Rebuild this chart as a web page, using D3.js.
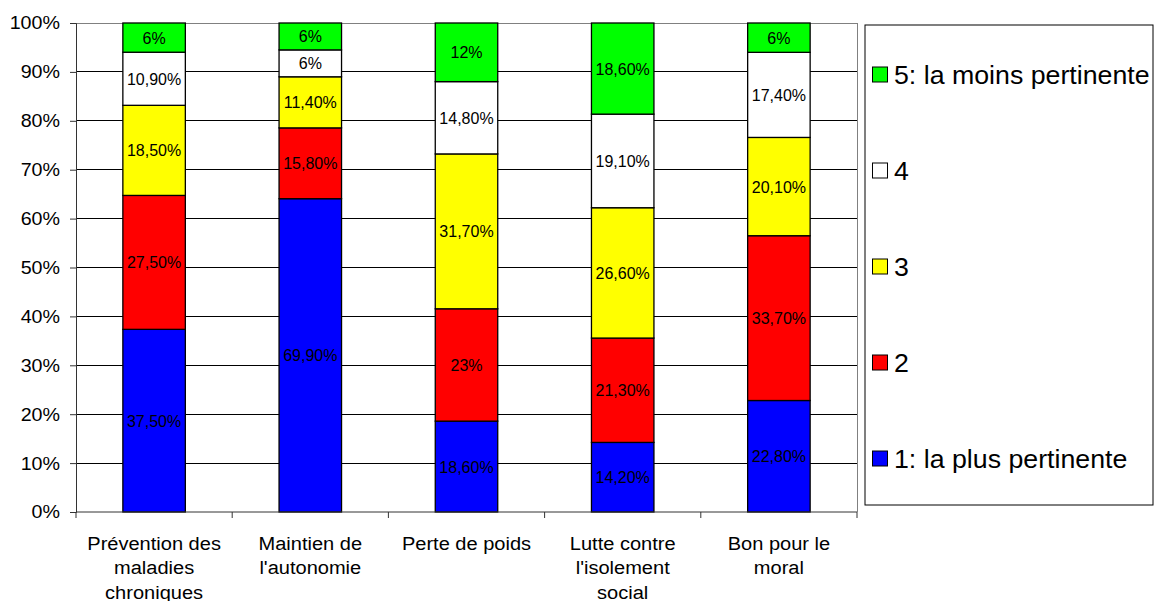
<!DOCTYPE html>
<html><head><meta charset="utf-8">
<script src="https://cdn.jsdelivr.net/npm/d3@7"></script>
<style>body{margin:0;background:#fff}svg{display:block;font-family:"Liberation Sans",Arial,sans-serif}</style>
</head><body><svg id="c" width="1154" height="601"></svg>
<script>
const categories = [["Prévention des","maladies","chroniques"],["Maintien de","l'autonomie"],["Perte de poids"],["Lutte contre","l'isolement","social"],["Bon pour le","moral"]];
const seriesNames = ["1: la plus pertinente","2","3","4","5: la moins pertinente"];
const seriesColors = ["#0000FF","#FF0000","#FFFF00","#FFFFFF","#00FF00"];
const s1 = [37.5, 69.9, 18.6, 14.2, 22.8];
const s2 = [27.5, 15.8, 23, 21.3, 33.7];
const s3 = [18.5, 11.4, 31.7, 26.6, 20.1];
const s4 = [10.9, 6, 14.8, 19.1, 17.4];
const s5 = [6, 6, 12, 18.6, 6];
const yTicks = [0,0.1,0.2,0.3,0.4,0.5,0.6,0.7,0.8,0.9,1];

const series = [s1,s2,s3,s4,s5];
const keys = seriesNames.map((_,i)=>"s"+i);
const rows = categories.map((c,j)=>{const r={cat:j}; series.forEach((s,i)=>r["s"+i]=s[j]); return r;});
const stacked = d3.stack().keys(keys).offset(d3.stackOffsetExpand)(rows);

const svg = d3.select("#c");
const L=76, R=857, T=23, B=512;
const x = d3.scaleBand().domain(categories.map((_,j)=>j)).range([L,R]).paddingInner(0.6).paddingOuter(0.3);
const y = d3.scaleLinear().domain([0,1]).range([B,T]);
const fmt = v => Number.isInteger(v) ? v+"%" : v.toFixed(2).replace(".",",")+"%";

// gridlines
svg.append("g").selectAll("line").data(yTicks.filter(t=>t>0&&t<1)).join("line")
  .attr("x1",L).attr("x2",R).attr("y1",d=>y(d)).attr("y2",d=>y(d)).attr("stroke","#000").attr("stroke-width",1).attr("shape-rendering","crispEdges");
// plot border top/right
svg.append("path").attr("d",`M${L},${y(1)}H${R}V${B}`).attr("fill","none").attr("stroke","#808080").attr("shape-rendering","crispEdges");

// bars
const gs = svg.append("g").selectAll("g").data(stacked).join("g").attr("fill",(d,i)=>seriesColors[i]);
gs.selectAll("rect").data(d=>d).join("rect")
  .attr("x",d=>x(d.data.cat)).attr("width",x.bandwidth())
  .attr("y",d=>y(d[1])).attr("height",d=>y(d[0])-y(d[1]))
  .attr("stroke","#000").attr("stroke-width",1.3);
// labels
const lg = svg.append("g").attr("font-size",16).attr("text-anchor","middle").attr("fill","#000");
stacked.forEach((s,i)=>{
  lg.selectAll(null).data(s).join("text")
    .attr("x",d=>x(d.data.cat)+x.bandwidth()/2)
    .attr("y",d=>(y(d[0])+y(d[1]))/2+6)
    .text(d=>fmt(series[i][d.data.cat]));
});

// y axis
const ya = svg.append("g").attr("transform",`translate(${L},0)`)
  .call(d3.axisLeft(y).tickValues(yTicks).tickFormat(d=>Math.round(d*100)+"%").tickSize(6).tickPadding(10));
ya.select(".domain").attr("stroke","#333");
ya.selectAll("line").attr("stroke","#333");
ya.selectAll("text").attr("font-size",18.5).attr("font-family","Liberation Sans, Arial, sans-serif").attr("fill","#000")
  .attr("x",-16/1.064).attr("transform","scale(1.064,1)");

// x axis
svg.append("line").attr("x1",L).attr("x2",R).attr("y1",B).attr("y2",B).attr("stroke","#333");
const bounds = categories.map((_,j)=>x(j)-x.step()*x.paddingInner()/2).concat([R]);
svg.append("g").selectAll("line").data(bounds).join("line")
  .attr("x1",d=>d).attr("x2",d=>d).attr("y1",B).attr("y2",B+6).attr("stroke","#333");
const xl = svg.append("g").attr("font-size",19).attr("text-anchor","middle").attr("fill","#000");
categories.forEach((lines,j)=>{
  const t = xl.append("text").attr("transform",`translate(${x(j)+x.bandwidth()/2},0) scale(1.055,1)`).attr("x",0).attr("y",550);
  lines.forEach((ln,k)=>t.append("tspan").attr("x",0).attr("y",550+k*24.3).text(ln));
});

// legend
svg.append("rect").attr("x",865).attr("y",25).attr("width",288).attr("height",480).attr("fill","#fff").attr("stroke","#000").attr("stroke-width",1);
const order = [4,3,2,1,0];
const lgd = svg.append("g").selectAll("g").data(order).join("g")
  .attr("transform",(d,k)=>`translate(872,${74.5+k*96})`);
lgd.append("rect").attr("x",0.5).attr("y",-7.5).attr("width",15).attr("height",15).attr("fill",d=>seriesColors[d]).attr("stroke","#000");
lgd.append("text").attr("transform","translate(22,9) scale(1.07,1)").attr("font-size",25).attr("fill","#000").text(d=>seriesNames[d]);
</script></body></html>
